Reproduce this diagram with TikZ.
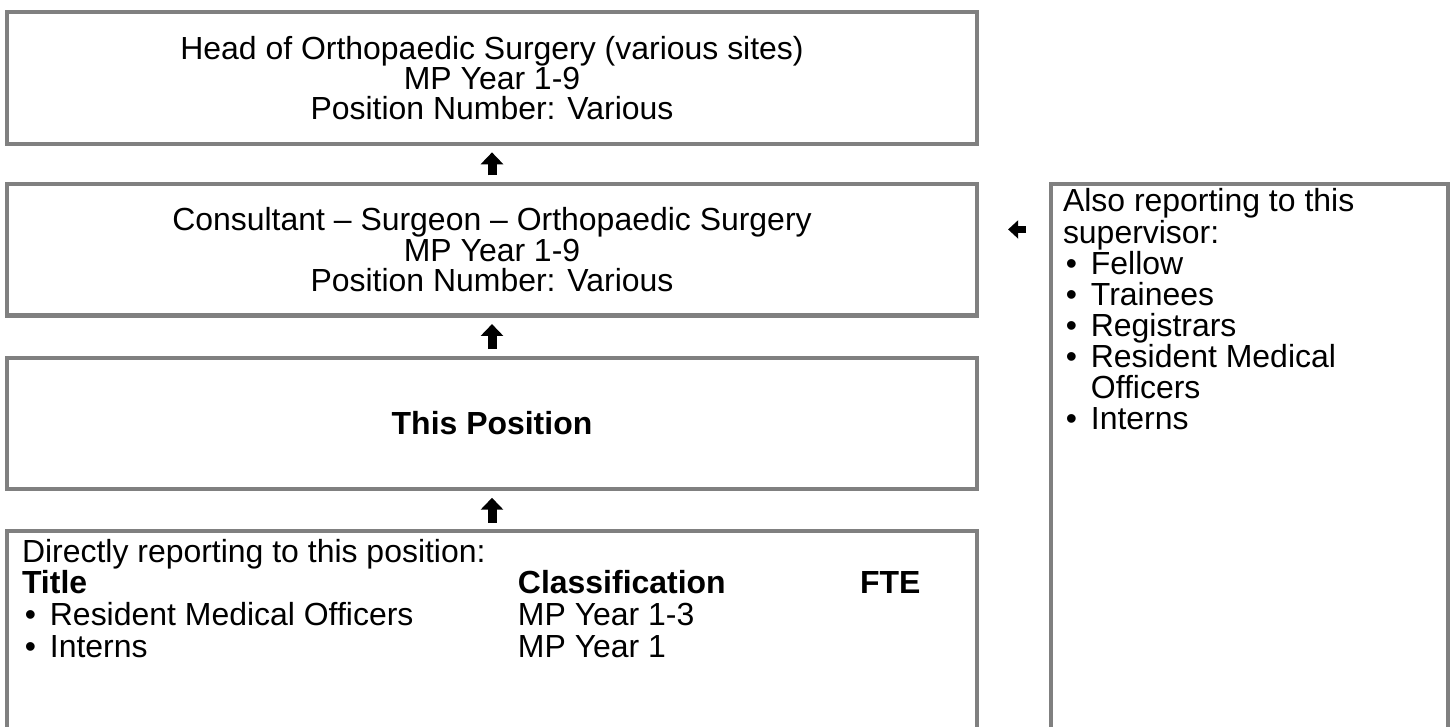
\documentclass[tikz,border=0pt]{standalone}
\usepackage{fontspec}
\setmainfont{Liberation Sans}
\usetikzlibrary{
    arrows.meta,
    positioning
}

\newcommand{\bul}{\makebox[12.4pt][l]{\hspace{1.3pt}\textbullet}}

\begin{document}
\begin{tikzpicture}[
  x=0.4444pt, y=-0.4444pt,
  node distance=16.9pt,
  font=\fontsize{14.2}{13.4}\selectfont,
  posbox/.style={rectangle,draw=gray,line width=1.8pt,align=center,
    minimum width=431.1pt,minimum height=58.5pt,inner sep=0pt},
  listbox/.style={posbox,align=left,font=\fontsize{14.2}{13.8}\selectfont},
  uparrow/.style={line width=4pt,-{Triangle[length=5.3pt,width=9.8pt]},
    shorten <=2.9pt,shorten >=2.9pt},
  leftarrow/.style={line width=3.2pt,-{Triangle[length=4.5pt,width=8pt]},
    shorten <=10.2pt,shorten >=12.9pt}
]
\useasboundingbox (0,0) rectangle (1453,727);

\node[posbox] (head) at (492,78) {Head of Orthopaedic Surgery (various sites)\\MP Year 1-9\\Position Number: Various};
\node[posbox, below=16pt of head] (consult) {Consultant – Surgeon – Orthopaedic Surgery\\MP Year 1-9\\Position Number: Various};
\node[posbox, below=of consult] (pos) {\textbf{This Position}};
\node[listbox, below=of pos, inner xsep=6.7pt, inner ysep=3.5pt] (direct) {\parbox[t][100pt][t]{417.7pt}{Directly reporting to this position:\\
  \begin{tabular}[t]{@{}p{220.4pt}@{}p{152pt}@{}l@{}}
  \textbf{Title} & \textbf{Classification} & \textbf{FTE}\\
  \bul Resident Medical Officers & MP Year 1-3 & \\
  \bul Interns & MP Year 1 &
  \end{tabular}}};
\node[listbox, right=31.1pt of consult.north east, anchor=north west, minimum width=176.4pt,
  inner xsep=5.3pt, inner ysep=2.2pt] (also) {\parbox[t][250pt][t]{165.8pt}{Also reporting to this\\supervisor:\\
  \bul Fellow\\
  \bul Trainees\\
  \bul Registrars\\
  \bul Resident Medical\\\hspace*{12.4pt}Officers\\
  \bul Interns}};

\coordinate (lvl) at ([yshift=9pt]consult.east);
\draw[uparrow] (consult) -- (head);
\draw[uparrow] (pos) -- (consult);
\draw[uparrow] (direct) -- (pos);
\draw[leftarrow] (also.west |- lvl) -- (lvl);
\end{tikzpicture}
\end{document}
